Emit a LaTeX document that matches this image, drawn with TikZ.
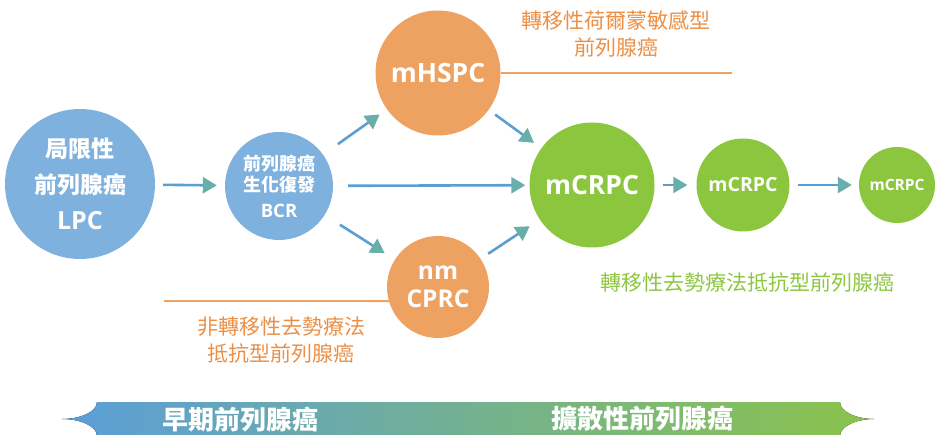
\documentclass[tikz,border=0pt]{standalone}
\usepackage{fontspec}
\setmainfont{Noto Sans CJK TC}
\newfontfamily\lat{Open Sans}
\usetikzlibrary{arrows.meta}
\definecolor{cblue}{HTML}{7EB1DE}
\definecolor{corange}{HTML}{EDA262}
\definecolor{cgreen}{HTML}{8CC63F}
\definecolor{tor}{HTML}{EB8F45}
\definecolor{tgr}{HTML}{8DC63F}
\definecolor{aline}{HTML}{5B9FD2}
\definecolor{ahead}{HTML}{68AEAA}
\definecolor{bleft}{HTML}{5B9ED9}
\definecolor{bright}{HTML}{8BC34A}
\tikzset{
  circ/.style={circle, inner sep=0pt, text=white, align=center, font=\bfseries},
  arr/.style={line width=2.6pt, draw=aline, -{Triangle[length=14pt,width=16pt,color=ahead]}},
  oline/.style={line width=1.8pt, draw=corange},
  otext/.style={text=tor, align=center, font=\fontsize{21}{27}\selectfont},
  gtext/.style={text=tgr, align=center, font=\fontsize{21}{27}\selectfont},
  btext/.style={text=white, font=\bfseries\fontsize{26}{30}\selectfont}
}
\begin{document}
\begin{tikzpicture}[x=1pt,y=-1pt]
\useasboundingbox (0,0) rectangle (939,435);
% banner
\fill[left color=bleft, right color=bright]
  (97,402) -- (840,402)
  .. controls (840,412) and (857,419) .. (874,419)
  .. controls (857,419) and (840,426) .. (840,436)
  -- (97,436)
  .. controls (97,426) and (80,419) .. (62,419)
  .. controls (80,419) and (97,412) .. (97,402) -- cycle;
\node[btext] (b1) at (240,419) {早期前列腺癌};
\node[btext] (b2) at (642,419) {擴散性前列腺癌};
% circles
\node[circ, fill=cblue, minimum size=150pt, font=\bfseries\fontsize{23}{36}\selectfont] (lpc) at (80,184) {局限性\\前列腺癌\\{\lat\bfseries\fontsize{25}{36}\selectfont LPC}};
\node[circ, fill=cblue, minimum size=108pt, font=\bfseries\fontsize{18}{21}\selectfont] (bcr) at (279,186) {前列腺癌\\生化復發\\[5pt]{\lat\bfseries\fontsize{18.5}{21}\selectfont BCR}};
\node[circ, fill=corange, minimum size=125pt, font=\lat\bfseries\fontsize{26.5}{30}\selectfont] (mhspc) at (438,73) {mHSPC};
\node[circ, fill=corange, minimum size=102pt, font=\lat\bfseries\fontsize{24.5}{28}\selectfont] (nm) at (438,287) {nm\\CPRC};
\node[circ, fill=cgreen, minimum size=125pt, font=\lat\bfseries\fontsize{26.5}{30}\selectfont] (c1) at (592,185) {mCRPC};
\node[circ, fill=cgreen, minimum size=93pt, font=\lat\bfseries\fontsize{19.5}{22}\selectfont] (c2) at (743,185) {mCRPC};
\node[circ, fill=cgreen, minimum size=76pt, font=\lat\bfseries\fontsize{15.5}{18}\selectfont] (c3) at (897,185) {mCRPC};
% orange lines
\coordinate (hl) at (732,73);
\coordinate (nl) at (164,301);
\draw[oline] (mhspc.east) -- (hl);
\draw[oline] (nl) -- (nm.196);
% arrows
\draw[arr, shorten <=8pt, shorten >=8pt] (lpc) -- (bcr);
\draw[arr, shorten <=18pt, shorten >=9pt] (bcr) -- (mhspc);
\draw[arr, shorten <=15pt, shorten >=4pt] (bcr) -- (c1);
\draw[arr, shorten <=18pt, shorten >=12pt] (bcr) -- (nm);
\draw[arr, shorten <=8pt, shorten >=9pt] (mhspc) -- (c1);
\draw[arr, shorten <=9pt, shorten >=12pt] (nm) -- (c1);
\draw[arr, shorten <=8pt, shorten >=9pt] (c1) -- (c2);
\draw[arr, shorten <=8pt, shorten >=7pt] (c2) -- (c3);
% texts
\node[otext] (t1) at (616,34) {轉移性荷爾蒙敏感型\\前列腺癌};
\node[otext] (t2) at (281,340) {非轉移性去勢療法\\抵抗型前列腺癌};
\node[gtext] (t3) at (747,282) {轉移性去勢療法抵抗型前列腺癌};
\end{tikzpicture}
\end{document}
